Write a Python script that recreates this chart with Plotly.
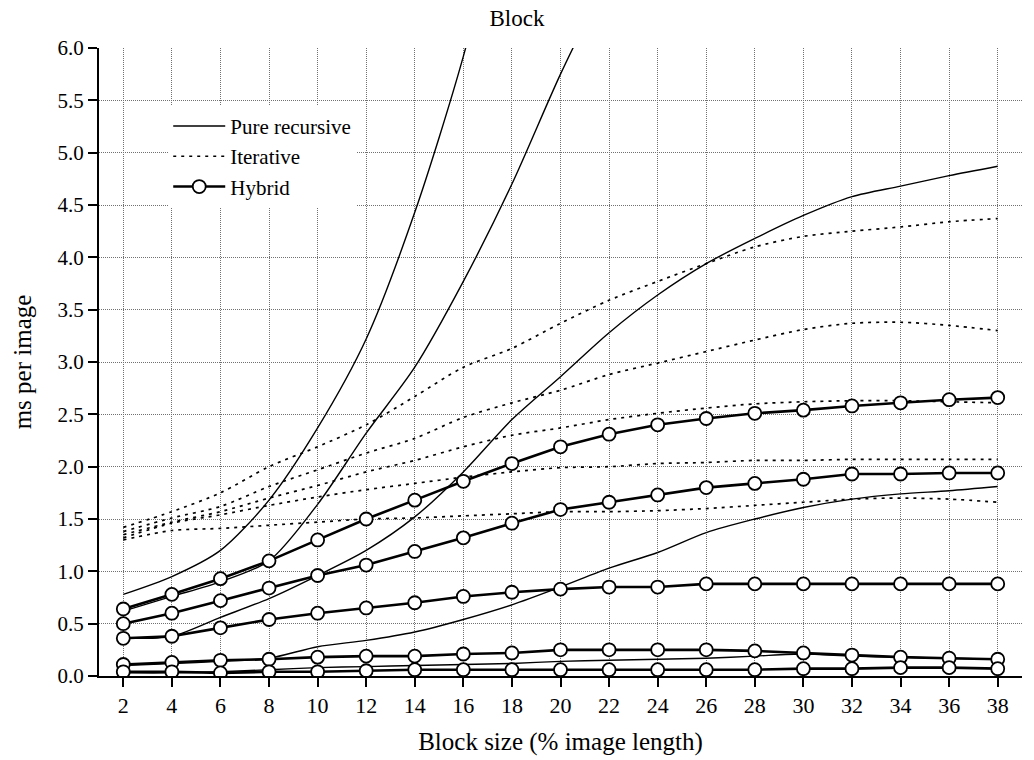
import plotly.graph_objects as go

block_sizes = [2, 4, 6, 8, 10, 12, 14, 16, 18, 20, 22, 24, 26, 28, 30, 32, 34, 36, 38]

# Pure recursive (5 runs)
rec_1 = [0.78, 0.95, 1.20, 1.68, 2.37, 3.22, 4.43, 5.92, 7.80]
rec_2 = [0.62, 0.76, 0.90, 1.10, 1.64, 2.32, 2.95, 3.77, 4.70, 5.75, 6.70]
rec_3 = [0.36, 0.38, 0.56, 0.74, 0.96, 1.20, 1.52, 1.95, 2.45, 2.86, 3.28, 3.64, 3.94, 4.18, 4.40, 4.58, 4.68, 4.78, 4.87]
rec_4 = [0.10, 0.12, 0.14, 0.17, 0.28, 0.34, 0.42, 0.54, 0.68, 0.85, 1.03, 1.18, 1.37, 1.50, 1.61, 1.69, 1.74, 1.77, 1.81]
rec_5 = [0.03, 0.03, 0.04, 0.06, 0.08, 0.09, 0.10, 0.11, 0.12, 0.14, 0.15, 0.16, 0.17, 0.19, 0.21, 0.19, 0.18, 0.17, 0.16]

# Iterative (5 runs)
it_1 = [1.42, 1.57, 1.75, 2.00, 2.19, 2.40, 2.67, 2.95, 3.13, 3.37, 3.59, 3.77, 3.94, 4.10, 4.20, 4.25, 4.29, 4.34, 4.37]
it_2 = [1.38, 1.51, 1.62, 1.81, 1.97, 2.13, 2.27, 2.47, 2.61, 2.73, 2.88, 2.99, 3.10, 3.21, 3.31, 3.37, 3.38, 3.35, 3.30]
it_3 = [1.35, 1.47, 1.57, 1.70, 1.82, 1.95, 2.06, 2.19, 2.30, 2.37, 2.45, 2.51, 2.56, 2.60, 2.62, 2.63, 2.63, 2.62, 2.61]
it_4 = [1.32, 1.46, 1.54, 1.63, 1.71, 1.78, 1.84, 1.90, 1.95, 1.99, 2.00, 2.03, 2.04, 2.06, 2.06, 2.07, 2.07, 2.07, 2.07]
it_5 = [1.30, 1.39, 1.41, 1.44, 1.47, 1.50, 1.51, 1.53, 1.55, 1.57, 1.57, 1.58, 1.60, 1.63, 1.66, 1.69, 1.70, 1.69, 1.66]

# Hybrid (5 runs)
hy_1 = [0.64, 0.78, 0.93, 1.10, 1.30, 1.50, 1.68, 1.86, 2.03, 2.19, 2.31, 2.40, 2.46, 2.51, 2.54, 2.58, 2.61, 2.64, 2.66]
hy_2 = [0.50, 0.60, 0.72, 0.84, 0.96, 1.06, 1.19, 1.32, 1.46, 1.59, 1.66, 1.73, 1.80, 1.84, 1.88, 1.93, 1.93, 1.94, 1.94]
hy_3 = [0.36, 0.38, 0.46, 0.54, 0.60, 0.65, 0.70, 0.76, 0.80, 0.83, 0.85, 0.85, 0.88, 0.88, 0.88, 0.88, 0.88, 0.88, 0.88]
hy_4 = [0.11, 0.13, 0.15, 0.16, 0.18, 0.19, 0.19, 0.21, 0.22, 0.25, 0.25, 0.25, 0.25, 0.24, 0.22, 0.20, 0.18, 0.17, 0.16]
hy_5 = [0.04, 0.04, 0.03, 0.04, 0.04, 0.05, 0.06, 0.06, 0.06, 0.06, 0.06, 0.06, 0.06, 0.06, 0.07, 0.07, 0.08, 0.08, 0.07]

y_ticks = [0.0, 0.5, 1.0, 1.5, 2.0, 2.5, 3.0, 3.5, 4.0, 4.5, 5.0, 5.5, 6.0]

FONT = "Liberation Serif, Times New Roman, serif"

fig = go.Figure()

for i, ys in enumerate([rec_1, rec_2, rec_3, rec_4, rec_5]):
    fig.add_trace(go.Scatter(
        x=block_sizes[:len(ys)], y=ys, mode="lines", name="Pure recursive",
        legendgroup="rec", showlegend=(i == 0),
        line=dict(color="black", width=1.4, shape="spline", smoothing=0.8),
    ))

for i, ys in enumerate([it_1, it_2, it_3, it_4, it_5]):
    fig.add_trace(go.Scatter(
        x=block_sizes, y=ys, mode="lines", name="Iterative",
        legendgroup="it", showlegend=(i == 0),
        line=dict(color="black", width=1.7, dash="3px,5px", shape="spline", smoothing=0.8),
    ))

for i, ys in enumerate([hy_1, hy_2, hy_3, hy_4, hy_5]):
    fig.add_trace(go.Scatter(
        x=block_sizes, y=ys, mode="lines+markers", name="Hybrid",
        legendgroup="hy", showlegend=(i == 0),
        line=dict(color="black", width=2.6),
        marker=dict(symbol="circle", size=13, color="white",
                    line=dict(color="black", width=1.8)),
    ))

fig.update_layout(
    width=1034, height=760,
    margin=dict(l=99, r=12, t=48, b=84),
    paper_bgcolor="white", plot_bgcolor="white",
    font=dict(family=FONT, color="black", size=21),
    title=dict(text="Block", x=0.5, xanchor="center", y=0.976, yanchor="middle",
               font=dict(family=FONT, size=23, color="black")),
    showlegend=True,
    legend=dict(x=0.075, y=0.908, xanchor="left", yanchor="top",
                bgcolor="white", borderwidth=0,
                font=dict(family=FONT, size=21, color="black"),
                itemwidth=52, tracegroupgap=0),
)

fig.update_xaxes(
    range=[1, 39], tickmode="array", tickvals=block_sizes,
    ticktext=[str(v) for v in block_sizes],
    showline=True, linecolor="black", linewidth=2,
    ticks="outside", ticklen=9, tickwidth=2, tickcolor="black",
    showgrid=True, gridcolor="#707070", gridwidth=1, griddash="1px,1px",
    zeroline=False, mirror=False, automargin=False,
    tickfont=dict(family=FONT, size=22, color="black"),
    title=dict(text="Block size (% image length)", standoff=15,
               font=dict(family=FONT, size=25, color="black")),
)
fig.update_yaxes(
    range=[0, 6], tickmode="array", tickvals=y_ticks,
    ticktext=[f"{v:.1f}" for v in y_ticks],
    showline=True, linecolor="black", linewidth=2,
    ticks="outside", ticklen=9, tickwidth=2, tickcolor="black",
    showgrid=True, gridcolor="#707070", gridwidth=1, griddash="1px,1px",
    zeroline=False, mirror=False, automargin=False,
    tickfont=dict(family=FONT, size=21, color="black"),
    title=dict(text="ms per image", standoff=19,
               font=dict(family=FONT, size=25, color="black")),
)

fig.write_html("out.html")
